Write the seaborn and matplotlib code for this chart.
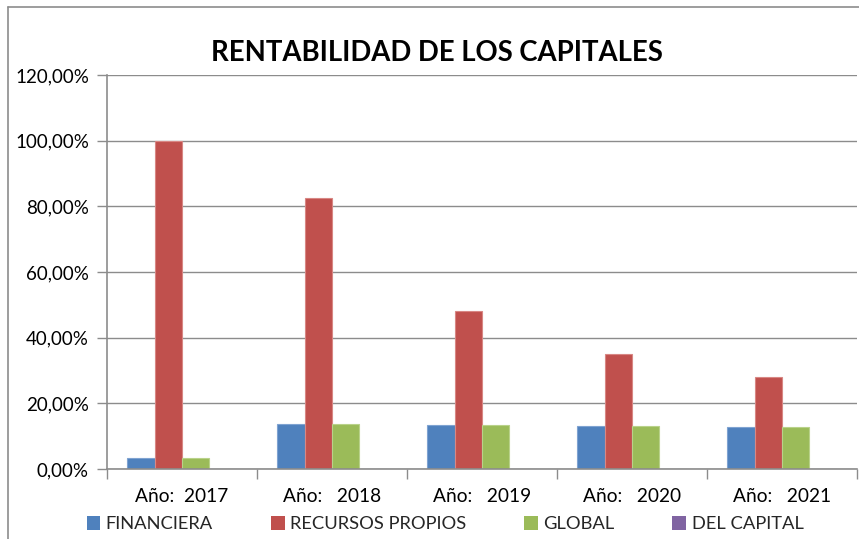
import matplotlib
matplotlib.use("Agg")
import matplotlib.pyplot as plt
import matplotlib.patches as mpatches
from matplotlib.ticker import FuncFormatter, MultipleLocator, FixedLocator
import seaborn as sns
import pandas as pd

# Data (%)
years = ["Año:  2017", "Año:   2018", "Año:   2019", "Año:   2020", "Año:   2021"]
series_names = ["FINANCIERA", "RECURSOS PROPIOS", "GLOBAL", "DEL CAPITAL"]
financiera = [3.3, 13.7, 13.3, 13.0, 12.7]
recursos_propios = [100.0, 82.4, 48.1, 34.9, 27.9]
global_ = [3.3, 13.7, 13.3, 13.0, 12.7]
del_capital = [0.0, 0.0, 0.0, 0.0, 0.0]
colors = ["#4F81BD", "#C0504D", "#9BBB59", "#8064A2"]
edge_colors = ["#7FA3D1", "#D88784", "#B9D28A", "#A08BBE"]

rows = []
for name, vals in zip(series_names, [financiera, recursos_propios, global_, del_capital]):
    for y, v in zip(years, vals):
        rows.append({"year": y, "serie": name, "valor": v})
df = pd.DataFrame(rows)

sns.set_theme(style="white")
plt.rcParams["font.family"] = ["Lato", "DejaVu Sans"]

fig = plt.figure(figsize=(8.59, 5.39), dpi=100)
ax = fig.add_axes([107 / 859, 1 - 469 / 539, 750 / 859, (469 - 75) / 539])

sns.barplot(data=df, x="year", y="valor", hue="serie", hue_order=series_names,
            palette=colors, width=0.728, ax=ax, legend=False, saturation=1)

# light outline on each bar, coloured per series
n = len(years)
for i, patch in enumerate(ax.patches[: n * len(series_names)]):
    patch.set_edgecolor(edge_colors[i // n])
    patch.set_linewidth(0.8)

ax.set_xlim(-0.5, n - 0.5)
ax.set_ylim(0, 120)
ax.yaxis.set_major_locator(MultipleLocator(20))
ax.yaxis.set_major_formatter(FuncFormatter(lambda v, p: f"{v:.2f}%".replace(".", ",")))
ax.grid(axis="y", color="#8C8C8C", linewidth=1.0)
ax.set_axisbelow(True)
ax.set_xlabel("")
ax.set_ylabel("")

for s in ["top", "right"]:
    ax.spines[s].set_visible(False)
for s in ["left", "bottom"]:
    ax.spines[s].set_color("#8C8C8C")
    ax.spines[s].set_linewidth(1.2)

ax.tick_params(axis="y", which="major", length=7, color="#8C8C8C", width=1.0,
               labelsize=13.5, labelcolor="black", pad=6, left=True)
ax.tick_params(axis="x", which="major", length=0, labelsize=13.8, labelcolor="black", pad=14)
ax.xaxis.set_minor_locator(FixedLocator([i - 0.5 for i in range(n + 1)]))
ax.tick_params(axis="x", which="minor", length=7, color="#8C8C8C", width=1.0, bottom=True)

fig.text(437 / 859, 1 - 53 / 539, "RENTABILIDAD DE LOS CAPITALES", ha="center", va="center",
         fontsize=19.8, fontweight="bold", color="black")

handles = [mpatches.Patch(facecolor=c, edgecolor="none") for c in colors]
fig.legend(handles, series_names, loc="center", bbox_to_anchor=(445 / 859, 1 - 524 / 539),
           ncol=4, frameon=False, fontsize=13.2, handlelength=0.75, handleheight=0.8,
           handletextpad=0.3, columnspacing=3.15, borderaxespad=0)

# outer chart frame
fig.add_artist(plt.Line2D([8 / 859, 8 / 859], [0, 1 - 7 / 539], transform=fig.transFigure,
                          color="#8C8C8C", linewidth=1.2))
fig.add_artist(plt.Line2D([8 / 859, 1], [1 - 7 / 539, 1 - 7 / 539], transform=fig.transFigure,
                          color="#8C8C8C", linewidth=1.2))

fig.savefig("out.png", dpi=100)
